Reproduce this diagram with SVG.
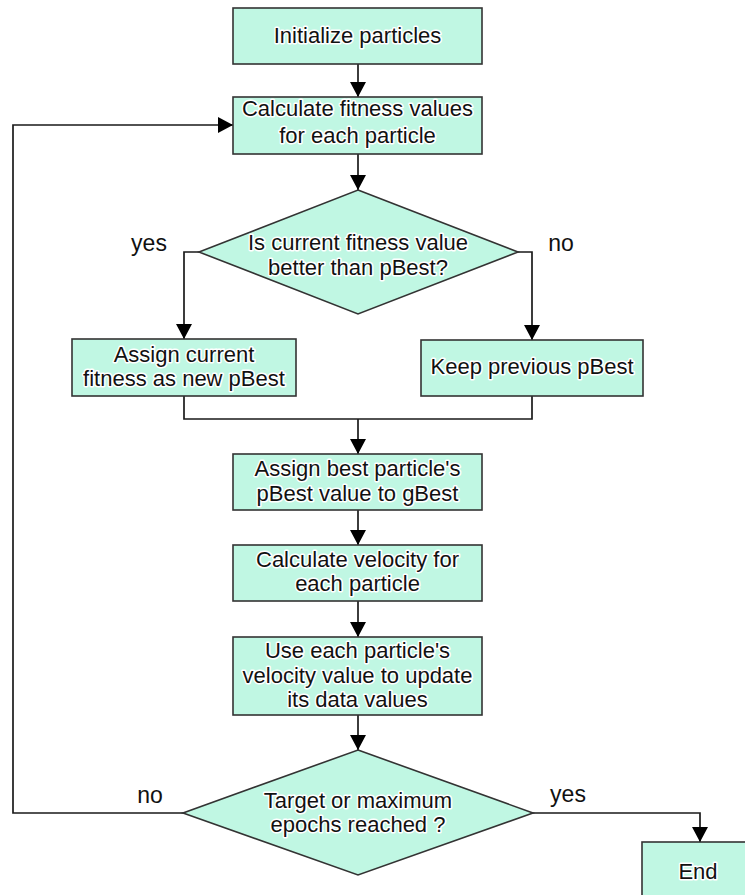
<svg xmlns="http://www.w3.org/2000/svg" width="745" height="895" viewBox="0 0 745 895">
<style>
.box{fill:#c0f7e3;stroke:#333;stroke-width:1.6}
.t{font-family:"Liberation Sans",Arial,sans-serif;font-size:22px;fill:#111;text-anchor:middle;stroke:#fff;stroke-width:3;stroke-linejoin:round;paint-order:stroke}
.lbl{font-family:"Liberation Sans",Arial,sans-serif;font-size:23px;fill:#111;text-anchor:middle}
.c{fill:none;stroke:#1a1a1a;stroke-width:1.7}
</style>
<defs>
<marker id="ah" markerUnits="userSpaceOnUse" markerWidth="16" markerHeight="16" viewBox="0 0 16 16" refX="15" refY="8" orient="auto">
<path d="M0,0 L15,8 L0,16 Z" fill="#000"/>
</marker>
</defs>
<rect width="745" height="895" fill="#fff"/>
<g id="connectors">
<line class="c" x1="358" y1="64" x2="358" y2="97" marker-end="url(#ah)"/>
<line class="c" x1="358" y1="154" x2="358" y2="190" marker-end="url(#ah)"/>
<polyline class="c" points="199,252 184,252 184,339" marker-end="url(#ah)"/>
<polyline class="c" points="518,252 532,252 532,340" marker-end="url(#ah)"/>
<polyline class="c" points="184,396 184,419 532,419 532,396"/>
<line class="c" x1="358" y1="419" x2="358" y2="454" marker-end="url(#ah)"/>
<line class="c" x1="358" y1="510" x2="358" y2="545" marker-end="url(#ah)"/>
<line class="c" x1="358" y1="601" x2="358" y2="637" marker-end="url(#ah)"/>
<line class="c" x1="358" y1="715" x2="358" y2="750" marker-end="url(#ah)"/>
<polyline class="c" points="183,813 13,813 13,125 233,125" marker-end="url(#ah)"/>
<polyline class="c" points="533,813 700,813 700,842" marker-end="url(#ah)"/>
<text class="lbl" x="149" y="251">yes</text>
<text class="lbl" x="561" y="251">no</text>
<text class="lbl" x="150" y="803">no</text>
<text class="lbl" x="568" y="802">yes</text>
</g>
<g id="init">
<rect class="box" x="233" y="8" width="249" height="56"/>
<text class="t" x="357.5" y="43">Initialize particles</text>
</g>
<g id="fitness">
<rect class="box" x="233" y="97" width="249" height="57"/>
<text class="t" x="357.5" y="116">Calculate fitness values</text>
<text class="t" x="357.5" y="143">for each particle</text>
</g>
<g id="decision1">
<polygon class="box" points="358,190 518,252 358,314 199,252"/>
<text class="t" x="358" y="250">Is current fitness value</text>
<text class="t" x="358" y="275">better than pBest?</text>
</g>
<g id="assign-pbest">
<rect class="box" x="72" y="339" width="224" height="57"/>
<text class="t" x="184" y="362">Assign current</text>
<text class="t" x="184" y="386">fitness as new pBest</text>
</g>
<g id="keep-pbest">
<rect class="box" x="421" y="340" width="222" height="56"/>
<text class="t" x="532" y="374">Keep previous pBest</text>
</g>
<g id="assign-gbest">
<rect class="box" x="233" y="454" width="249" height="56"/>
<text class="t" x="357.5" y="476">Assign best particle's</text>
<text class="t" x="357.5" y="501">pBest value to gBest</text>
</g>
<g id="velocity">
<rect class="box" x="233" y="545" width="249" height="56"/>
<text class="t" x="357.5" y="567">Calculate velocity for</text>
<text class="t" x="357.5" y="591">each particle</text>
</g>
<g id="update">
<rect class="box" x="233" y="637" width="249" height="78"/>
<text class="t" x="357.5" y="658">Use each particle's</text>
<text class="t" x="357.5" y="683">velocity value to update</text>
<text class="t" x="357.5" y="707">its data values</text>
</g>
<g id="decision2">
<polygon class="box" points="358,750 533,813 358,875 183,813"/>
<text class="t" x="358" y="808">Target or maximum</text>
<text class="t" x="358" y="832">epochs reached ?</text>
</g>
<g id="end">
<rect class="box" x="642" y="842" width="115" height="62"/>
<text class="t" x="698" y="879">End</text>
</g>
</svg>
